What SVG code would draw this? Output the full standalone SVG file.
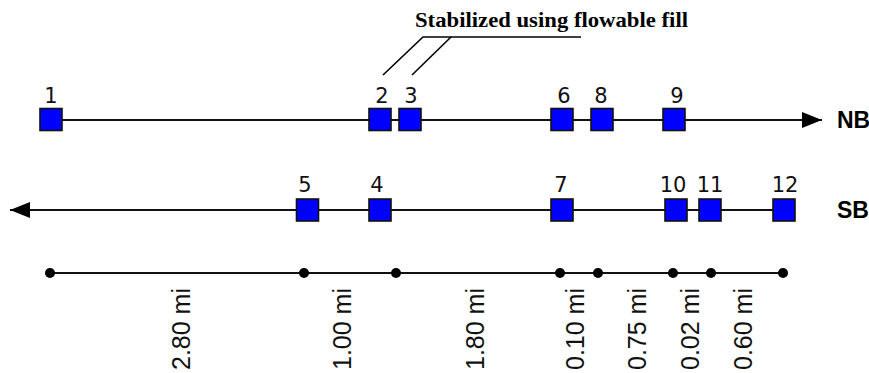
<svg xmlns="http://www.w3.org/2000/svg" width="869" height="373" viewBox="0 0 869 373">
<style>
.box{fill:#0000ff;stroke:#111;stroke-width:1.6}
.ln{stroke:#111;stroke-width:2;fill:none}
.lead{stroke:#000;stroke-width:1.6;fill:none}
.lbl{font-family:"DejaVu Sans","Liberation Sans",sans-serif;font-size:21px;fill:#111;text-anchor:middle}
.dir{font-family:"Liberation Sans",Arial,sans-serif;font-weight:bold;font-size:23px;fill:#000}
.dist{font-family:"Liberation Sans",Arial,sans-serif;font-size:25px;fill:#111;text-anchor:end}
.title{font-family:"Liberation Serif","Times New Roman",serif;font-weight:bold;font-size:22px;fill:#000}
.dot{fill:#000}
</style>
<defs>
<marker id="ah" viewBox="0 0 20 16" refX="20" refY="8" markerWidth="20" markerHeight="16" markerUnits="userSpaceOnUse" orient="auto">
<path d="M0,0 L20,8 L0,16 Z" fill="#000"/>
</marker>
</defs>
<rect width="869" height="373" fill="#fff"/>
<g id="connectors">
<line class="ln" x1="51" y1="120" x2="822" y2="120" marker-end="url(#ah)"/>
<line class="ln" x1="784" y1="210" x2="10" y2="210" marker-end="url(#ah)"/>
<line class="ln" x1="50" y1="273" x2="783" y2="273"/>
<polyline class="lead" points="383,75 423,37 581,37"/>
<line class="lead" x1="412" y1="75" x2="451" y2="37"/>
</g>
<g id="title"><text class="title" x="415" y="27" textLength="273" lengthAdjust="spacingAndGlyphs">Stabilized using flowable fill</text></g>
<g id="dir-nb"><text class="dir" x="837" y="128">NB</text></g>
<g id="dir-sb"><text class="dir" x="837" y="218">SB</text></g>
<g id="n1"><rect class="box" x="40" y="108.5" width="22" height="22"/><text class="lbl" x="51" y="103">1</text></g>
<g id="n2"><rect class="box" x="369" y="108.5" width="22" height="22"/><text class="lbl" x="382" y="103">2</text></g>
<g id="n3"><rect class="box" x="399" y="108.5" width="22" height="22"/><text class="lbl" x="411" y="103">3</text></g>
<g id="n6"><rect class="box" x="551" y="108.5" width="22" height="22"/><text class="lbl" x="564" y="103">6</text></g>
<g id="n8"><rect class="box" x="591" y="108.5" width="22" height="22"/><text class="lbl" x="601" y="103">8</text></g>
<g id="n9"><rect class="box" x="663" y="108.5" width="22" height="22"/><text class="lbl" x="677" y="103">9</text></g>
<g id="n5"><rect class="box" x="296.5" y="199" width="22" height="22"/><text class="lbl" x="305" y="192">5</text></g>
<g id="n4"><rect class="box" x="369" y="199" width="22" height="22"/><text class="lbl" x="377" y="192">4</text></g>
<g id="n7"><rect class="box" x="551" y="199" width="22" height="22"/><text class="lbl" x="561" y="192">7</text></g>
<g id="n10"><rect class="box" x="665" y="199" width="22" height="22"/><text class="lbl" x="673" y="192">10</text></g>
<g id="n11"><rect class="box" x="699" y="199" width="22" height="22"/><text class="lbl" x="710" y="192">11</text></g>
<g id="n12"><rect class="box" x="773" y="199" width="22" height="22"/><text class="lbl" x="785" y="192">12</text></g>
<g id="scale">
<circle class="dot" cx="50" cy="273" r="5"/>
<circle class="dot" cx="304" cy="273" r="5"/>
<circle class="dot" cx="396" cy="273" r="5"/>
<circle class="dot" cx="560" cy="273" r="5"/>
<circle class="dot" cx="598" cy="273" r="5"/>
<circle class="dot" cx="673" cy="273" r="5"/>
<circle class="dot" cx="711" cy="273" r="5"/>
<circle class="dot" cx="783" cy="273" r="5"/>
<text class="dist" transform="translate(190,288) rotate(-90)">2.80 mi</text>
<text class="dist" transform="translate(351,288) rotate(-90)">1.00 mi</text>
<text class="dist" transform="translate(484,288) rotate(-90)">1.80 mi</text>
<text class="dist" transform="translate(584,288) rotate(-90)">0.10 mi</text>
<text class="dist" transform="translate(646,288) rotate(-90)">0.75 mi</text>
<text class="dist" transform="translate(699,288) rotate(-90)">0.02 mi</text>
<text class="dist" transform="translate(752,288) rotate(-90)">0.60 mi</text>
</g>
</svg>
